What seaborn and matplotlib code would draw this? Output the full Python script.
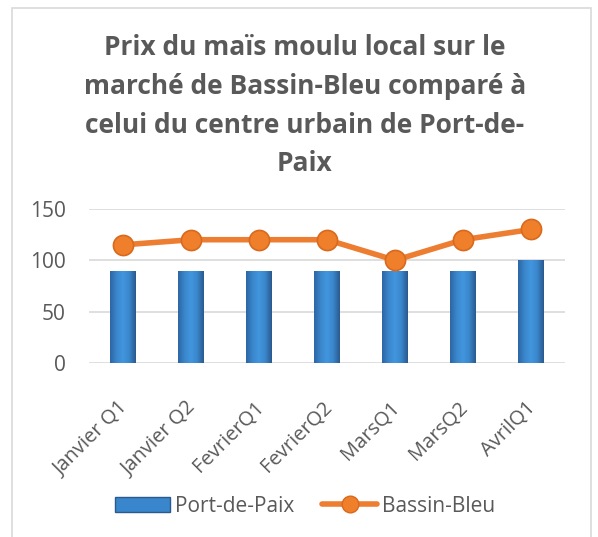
import matplotlib
matplotlib.use("Agg")
import matplotlib.pyplot as plt
from matplotlib.patches import Patch
from matplotlib.lines import Line2D
from matplotlib.colors import LinearSegmentedColormap
from matplotlib.transforms import ScaledTranslation
import numpy as np
import seaborn as sns
import pandas as pd

categories = ["Janvier Q1", "Janvier Q2", "FevrierQ1", "FevrierQ2", "MarsQ1", "MarsQ2", "AvrilQ1"]
port_de_paix = [90, 90, 90, 90, 90, 90, 100]
bassin_bleu = [115, 120, 120, 120, 100, 120, 130]

TEXT = "#595959"
BLUE = "#3a87cf"
ORANGE = "#ed7d31"

sns.set_theme(style="white")
plt.rcParams["font.family"] = ["Open Sans", "DejaVu Sans"]

df = pd.DataFrame(dict(categorie=categories, port=port_de_paix, bassin=bassin_bleu))

fig = plt.figure(figsize=(5.98, 5.37), dpi=100)
ax = fig.add_axes([0.149, 0.324, 0.796, 0.287])

sns.barplot(data=df, x="categorie", y="port", color=BLUE, width=0.38,
            linewidth=0, saturation=1, ax=ax, zorder=2)

# shaded look of the bars: horizontal gradient clipped to each bar
bar_cmap = LinearSegmentedColormap.from_list(
    "bar", ["#2d66a3", "#3a86cc", "#4296de", "#3a86cc", "#2a5a8e"])
grad = np.linspace(0, 1, 64).reshape(1, -1)
for p in list(ax.patches):
    x0, y0 = p.get_x(), p.get_y()
    im = ax.imshow(grad, cmap=bar_cmap, aspect="auto", zorder=2.1,
                   extent=(x0, x0 + p.get_width(), y0, y0 + p.get_height()))
    im.set_clip_path(p)

ax.plot(df.categorie, df.bassin, color=ORANGE, linewidth=4, marker="o",
        markersize=14.5, markerfacecolor="#f07f2c", markeredgecolor="#d9691c",
        markeredgewidth=1.2, zorder=3, solid_capstyle="round")

ax.set_ylim(0, 150)
ax.set_yticks([0, 50, 100, 150])
ax.set_xlim(-0.5, len(categories) - 0.5)
ax.yaxis.grid(True, color="#d9d9d9", linewidth=1.2, zorder=0)
ax.set_axisbelow(True)
for s in ax.spines.values():
    s.set_visible(False)
ax.set_xlabel("")
ax.set_ylabel("")
ax.tick_params(axis="y", length=0, colors=TEXT, labelsize=15, pad=17)
ax.tick_params(axis="x", length=0, colors=TEXT, labelsize=14.5, pad=30)
shift = ScaledTranslation(0.02, 0, fig.dpi_scale_trans)
for lab in ax.get_xticklabels():
    lab.set_rotation(45)
    lab.set_ha("right")
    lab.set_va("center")
    lab.set_rotation_mode("anchor")
    lab.set_transform(lab.get_transform() + shift)

fig.text(0.51, 0.803, "Prix du maïs moulu local sur le\nmarché de Bassin-Bleu comparé à\n"
         "celui du centre urbain de Port-de-\nPaix", ha="center", va="center",
         fontsize=19, fontweight="bold", color=TEXT, linespacing=1.56)

handles = [Patch(facecolor="#3a86cc", edgecolor="#2a5a8e"),
           Line2D([0], [0], color=ORANGE, linewidth=4, marker="o", markersize=12,
                  markerfacecolor="#f07f2c", markeredgecolor="#d9691c")]
fig.legend(handles, ["Port-de-Paix", "Bassin-Bleu"], loc="center",
           bbox_to_anchor=(0.51, 0.057), ncol=2, frameon=False, fontsize=15,
           labelcolor=TEXT, handlelength=2.65, handleheight=0.77, handletextpad=0.24,
           columnspacing=1.35)

# light frame around the chart
fig.patches.append(plt.Rectangle((12 / 598, -0.01), 579 / 598, 1 - 8 / 537 + 0.01,
                                 transform=fig.transFigure, fill=False,
                                 edgecolor="#d9d9d9", linewidth=1.2))

fig.savefig("out.png", dpi=100)
